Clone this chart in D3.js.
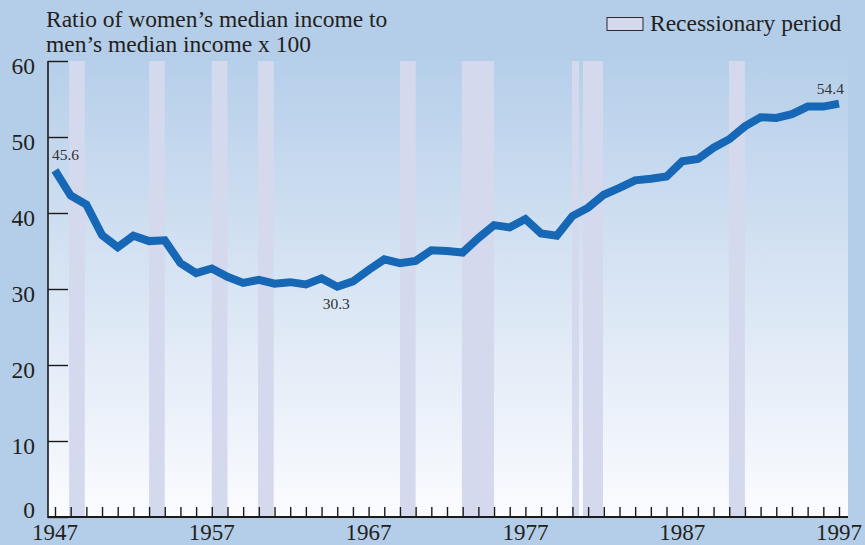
<!DOCTYPE html>
<html>
<head>
<meta charset="utf-8">
<script src="https://cdn.jsdelivr.net/npm/d3@7"></script>
<style>
  body { margin: 0; background: #b4cee9; }
  svg { display: block; font-family: "Liberation Serif", "DejaVu Serif", serif; }
</style>
</head>
<body>
<svg width="865" height="545"></svg>
<script>
// ratio of women's to men's median income, 1947-1997
var years = d3.range(1947, 1998);
var ratio = [45.6, 42.3, 41.1, 37.1, 35.5, 37.0, 36.3, 36.4, 33.4, 32.1,
             32.7, 31.6, 30.8, 31.2, 30.7, 30.9, 30.6, 31.4, 30.3, 31.0,
             32.5, 33.9, 33.4, 33.7, 35.1, 35.0, 34.8, 36.7, 38.4, 38.1,
             39.2, 37.3, 37.0, 39.6, 40.7, 42.4, 43.3, 44.3, 44.5, 44.8,
             46.8, 47.1, 48.6, 49.7, 51.4, 52.6, 52.5, 53.0, 54.0, 54.0,
             54.4];
// recessions, as drawn (start, end)
var recessions = [[1947.9, 1948.9], [1953.0, 1954.0], [1957.0, 1958.0], [1959.95, 1960.95],
                  [1969.0, 1970.0], [1972.95, 1975.0], [1979.97, 1980.42], [1980.67, 1981.95],
                  [1989.98, 1991.0]];
var yTicks = [0, 10, 20, 30, 40, 50, 60];
var xLabels = [1947, 1957, 1967, 1977, 1987, 1997];
var callouts = [{year: 1947, value: 45.6}, {year: 1965, value: 30.3}, {year: 1997, value: 54.4}];

(function() {
var svg = d3.select("svg"),
    plotLeft = 48, plotRight = 848, plotTop = 61, plotBottom = 517,
    fs = 23.5;

var x = d3.scaleLinear().domain([1946.554, 1997.574]).range([plotLeft, plotRight]),
    y = d3.scaleLinear().domain([0, 60]).range([plotBottom, plotTop]);

var defs = svg.append("defs");
var grad = defs.append("linearGradient")
    .attr("id", "plotbg").attr("x1", 0).attr("y1", 0).attr("x2", 0).attr("y2", 1);
grad.append("stop").attr("offset", "0%").attr("stop-color", "#b6cfea");
grad.append("stop").attr("offset", "50%").attr("stop-color", "#d9e5f4");
grad.append("stop").attr("offset", "100%").attr("stop-color", "#fbfcff");

svg.append("rect")
    .attr("x", 0).attr("y", 0).attr("width", 865).attr("height", 545)
    .attr("fill", "#b4cee9");

svg.append("rect")
    .attr("x", plotLeft).attr("y", plotTop)
    .attr("width", plotRight - plotLeft).attr("height", plotBottom - plotTop)
    .attr("fill", "url(#plotbg)");

svg.selectAll(".recession")
    .data(recessions)
    .enter().append("rect")
        .attr("class", "recession")
        .attr("x", function(d) { return x(d[0]); })
        .attr("y", plotTop)
        .attr("width", function(d) { return x(d[1]) - x(d[0]); })
        .attr("height", plotBottom - plotTop)
        .attr("fill", "#d4d9ee");

// axes
var xAxis = d3.axisTop(x)
    .tickValues(years)
    .tickSize(10)
    .tickFormat("");
var gx = svg.append("g")
    .attr("transform", "translate(0," + plotBottom + ")")
    .call(xAxis);
gx.select(".domain").remove();
gx.selectAll(".tick line").attr("stroke", "#1a1a1a").attr("stroke-width", 1.4);

svg.append("line")
    .attr("x1", plotLeft).attr("x2", plotRight)
    .attr("y1", plotBottom).attr("y2", plotBottom)
    .attr("stroke", "#1a1a1a").attr("stroke-width", 2);

var yAxis = d3.axisRight(y)
    .tickValues(yTicks)
    .tickSize(20)
    .tickFormat("");
var gy = svg.append("g")
    .attr("transform", "translate(" + plotLeft + ",0)")
    .call(yAxis);
gy.select(".domain").remove();
gy.selectAll(".tick line").attr("stroke", "#1a1a1a").attr("stroke-width", 1.4);

svg.append("line")
    .attr("x1", plotLeft).attr("x2", plotLeft)
    .attr("y1", plotTop).attr("y2", plotBottom + 1)
    .attr("stroke", "#1a1a1a").attr("stroke-width", 1.6);

svg.selectAll(".ylab")
    .data(yTicks)
    .enter().append("text")
        .attr("class", "ylab")
        .attr("x", 35)
        .attr("y", function(d) { return d === 0 ? y(d) + 1 : y(d) + 13; })
        .attr("text-anchor", "end")
        .attr("font-size", fs)
        .attr("fill", "#231f20")
        .text(function(d) { return d; });

svg.selectAll(".xlab")
    .data(xLabels)
    .enter().append("text")
        .attr("class", "xlab")
        .attr("x", function(d) { return x(d); })
        .attr("y", 540)
        .attr("text-anchor", "middle")
        .attr("font-size", 23)
        .attr("fill", "#231f20")
        .text(function(d) { return d; });

// the line
var line = d3.line()
    .x(function(d, i) { return x(years[i]); })
    .y(function(d) { return y(d); });

svg.append("path")
    .datum(ratio)
    .attr("d", line)
    .attr("fill", "none")
    .attr("stroke", "#1667b5")
    .attr("stroke-width", 8)
    .attr("stroke-linejoin", "miter");

svg.selectAll(".callout")
    .data(callouts)
    .enter().append("text")
        .attr("class", "callout")
        .attr("x", function(d) {
            if (d.year === 1947) return x(d.year) - 3;
            if (d.year === 1997) return x(d.year) + 5;
            return x(d.year) - 1;
        })
        .attr("y", function(d) { return d.year === 1965 ? y(d.value) + 22 : y(d.value) - 10; })
        .attr("text-anchor", function(d) {
            if (d.year === 1947) return "start";
            if (d.year === 1997) return "end";
            return "middle";
        })
        .attr("font-size", 15.5)
        .attr("fill", "#333")
        .text(function(d) { return d.value; });

// title
svg.append("text")
    .attr("x", 46).attr("y", 27)
    .attr("font-size", fs).attr("fill", "#231f20")
    .text("Ratio of women\u2019s median income to");
svg.append("text")
    .attr("x", 46).attr("y", 52)
    .attr("font-size", fs).attr("fill", "#231f20")
    .text("men\u2019s median income x 100");

// legend
svg.append("rect")
    .attr("x", 607).attr("y", 17.5).attr("width", 36).attr("height", 13)
    .attr("fill", "#d4d9ee").attr("stroke", "#2b2b2b").attr("stroke-width", 1);
svg.append("text")
    .attr("x", 650).attr("y", 31)
    .attr("font-size", fs).attr("fill", "#231f20")
    .text("Recessionary period");
})();
</script>
</body>
</html>
